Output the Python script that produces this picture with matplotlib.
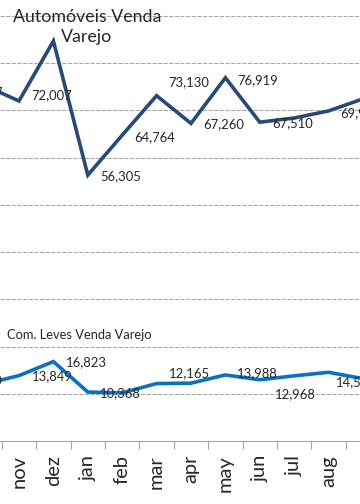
import numpy as np
import matplotlib
matplotlib.use('Agg')
import matplotlib.pyplot as plt

# -----------------------------------------------------------------------
# Data
# -----------------------------------------------------------------------
months = ['out', 'nov', 'dez', 'jan', 'feb', 'mar', 'apr', 'may',
          'jun', 'jul', 'aug', 'sep']
auto_varejo = [75277, 72007, 84700, 56305, 64764, 73130, 67260, 76919,
               67510, 68400, 69900, 72450]
leves_varejo = [12070, 13849, 16823, 10368, 10200, 12165, 12250, 13988,
                12968, 13800, 14550, 13200]

auto_name = 'Automóveis Venda\nVarejo'
leves_name = 'Com. Leves Venda Varejo'

# which points carry a data label, and where (offset in pixels: dx, dy, ha)
auto_labels = {0: (18, -7, 'right'), 1: (12, 6, 'left'), 3: (12, -1, 'left'),
               4: (12, -2, 'left'), 5: (12, 14, 'left'), 6: (12, -1, 'left'),
               7: (12, -2, 'left'), 8: (12, -1, 'left'), 10: (12, -2, 'left')}
leves_labels = {0: (18, 4, 'right'), 1: (13, -1, 'left'), 2: (13, -1, 'left'),
                3: (12, -1, 'left'), 5: (12, 10, 'left'), 7: (12, 2, 'left'),
                8: (15, -14, 'left'), 10: (7, -10, 'left')}

FONT = 'Lato'
plt.rcParams['font.family'] = [FONT, 'DejaVu Sans']

fig = plt.figure(figsize=(3.6, 5.04), dpi=100)
ax = fig.add_axes([0, 63 / 504, 1, 441 / 504])

x = np.arange(len(months))
ax.plot(x, auto_varejo, color='#264A7B', linewidth=2.6, solid_joinstyle='miter',
        zorder=3)
ax.plot(x, leves_varejo, color='#0A72C2', linewidth=2.6, solid_joinstyle='miter',
        zorder=3)

# axes / scales (ticks first, limits after, so the ticks don't widen the view)
ax.set_xticks(x)
ax.set_xticklabels(months, rotation=90, fontsize=14.5, color='#262626')
ax.set_xticks(x[:-1] + 0.5, minor=True)
ax.tick_params(axis='x', which='major', length=0, pad=10)
ax.tick_params(axis='x', which='minor', length=6, color='#A6A6A6', width=0.8)

ax.set_yticks(np.arange(10000, 90001, 10000))
ax.yaxis.grid(True, color='#A6A6A6', linestyle=(0, (4, 1.4)), linewidth=0.75)
ax.tick_params(axis='y', left=False, labelleft=False)

ax.set_xlim(15.4 / 34.4, 375.4 / 34.4)
ax.set_ylim(0, 93390)


def add_labels(values, spec):
    for i, (dx, dy, ha) in spec.items():
        ax.annotate(f'{values[i]:,}', (x[i], values[i]),
                    xytext=(dx, dy), textcoords='offset pixels',
                    ha=ha, va='center', fontsize=9.4, color='#262626',
                    zorder=4, annotation_clip=False)


add_labels(auto_varejo, auto_labels)
add_labels(leves_varejo, leves_labels)

# series names
ax.text(87 / 360, 1 - 27 / 441, auto_name, transform=ax.transAxes,
        ha='center', va='center', fontsize=12.8, color='#262626',
        linespacing=1.25)
ax.text(7 / 360, 1 - 335 / 441, leves_name, transform=ax.transAxes,
        ha='left', va='center', fontsize=9.3, color='#262626')

for side in ('top', 'left', 'right'):
    ax.spines[side].set_visible(False)
ax.spines['bottom'].set_color('#A6A6A6')
ax.spines['bottom'].set_linewidth(0.8)
ax.set_axisbelow(True)

fig.savefig('out.png', dpi=100)
plt.close()
